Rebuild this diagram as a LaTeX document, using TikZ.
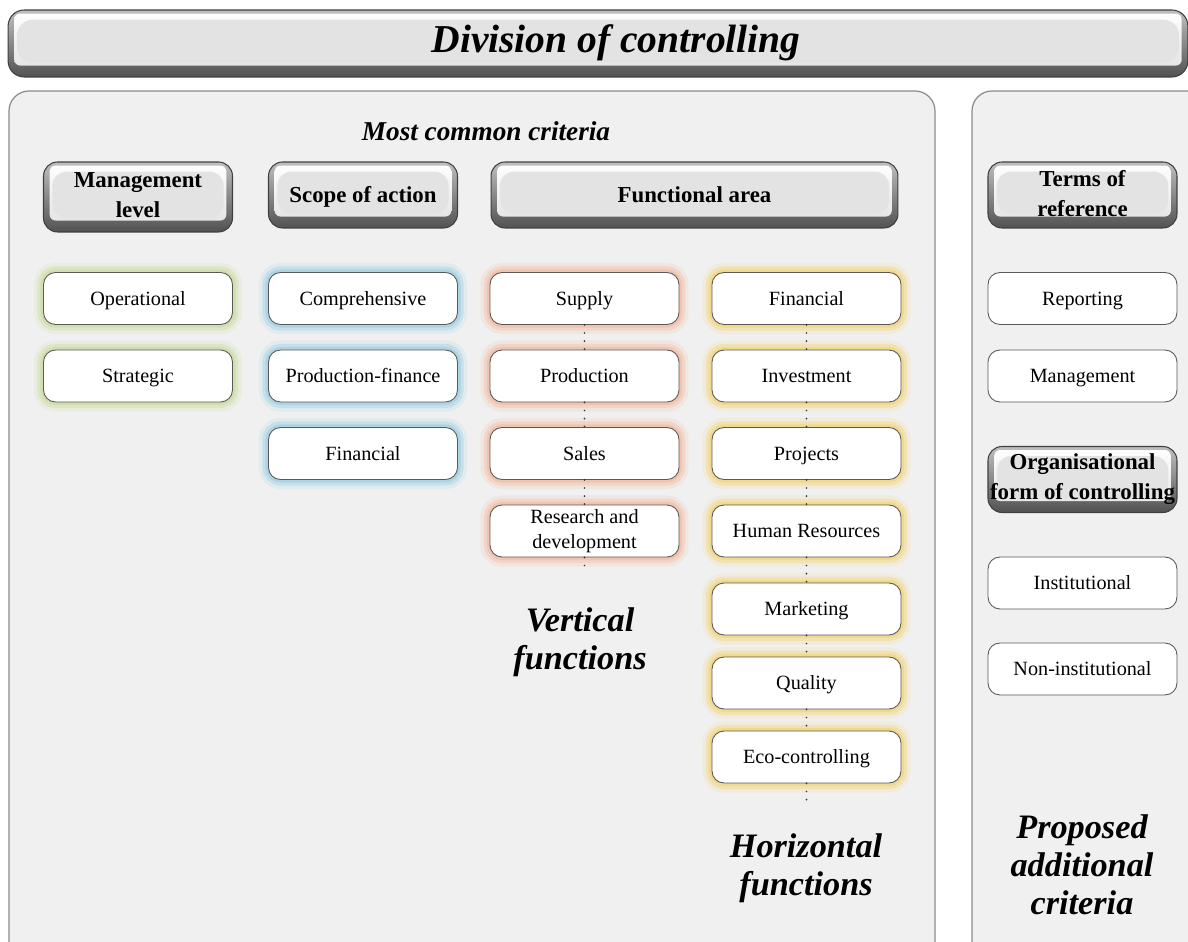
\documentclass[tikz,border=0pt]{standalone}
\usepackage{fontspec}
\setmainfont{Liberation Serif}
\usetikzlibrary{calc}
\definecolor{panelfill}{HTML}{F0F0F0}
\definecolor{panelline}{HTML}{8C8C8C}
\definecolor{glowgreen}{HTML}{C4D690}
\definecolor{glowblue}{HTML}{8CC8E0}
\definecolor{gloworange}{HTML}{F0B090}
\definecolor{glowyellow}{HTML}{F5D060}
\newcommand{\boxstrut}{\vrule height 10pt depth 2.4pt width 0pt}
\newcommand{\headstrut}{\vrule height 11pt depth 2pt width 0pt}
\tikzset{
  panel/.style={draw=panelline, fill=panelfill, line width=0.7pt, rounded corners=0.4cm},
  wbox/.style={draw=black!65, fill=white, rounded corners=0.24cm, minimum width=3.78cm,
    minimum height=1.04cm, align=center, inner sep=1pt, line width=0.5pt,
    font=\fontsize{11.5}{14}\selectfont,
    execute at begin node=\boxstrut, execute at end node=\boxstrut},
  glow/.style={preaction={draw=#1, line width=11pt, opacity=0.15},
    preaction={draw=#1, line width=7pt, opacity=0.3},
    preaction={draw=#1, line width=3.5pt, opacity=0.45}},
  bevel/.style={draw=black!75, line width=0.6pt, top color=black!25, bottom color=black!68,
    path picture={
      \shade[top color=white, bottom color=black!12, rounded corners=0.12cm]
        ($(path picture bounding box.north west)+(3.5pt,-2pt)$) rectangle
        ($(path picture bounding box.south east)+(-3.5pt,6.5pt)$);
      \fill[black!11]
        ($(path picture bounding box.north west)+(5pt,-5.5pt)$) rectangle
        ($(path picture bounding box.south east)+(-5pt,8pt)$);
    }},
  hbox/.style={bevel, rounded corners=0.28cm, minimum width=3.78cm, minimum height=1.32cm,
    align=center, inner sep=1pt, font=\fontsize{13}{17}\selectfont\bfseries,
    execute at begin node=\headstrut, execute at end node=\headstrut},
  bigital/.style={align=center, font=\fontsize{19.5}{21.5}\selectfont\bfseries\itshape},
  dotline/.style={line width=1.1pt, dash pattern=on 0pt off 4.6pt, line cap=round, black!80}
}
\begin{document}
\begin{tikzpicture}[x=0.02cm, y=-0.02cm]
\useasboundingbox (0,0) rectangle (1188,942);
\fill[white] (0,0) rectangle (1188,942);

% panels
\draw[panel] (9,91) rectangle (935,975);
\draw[panel] (972,91) rectangle (1230,975);

% title bar
\node[bevel, rounded corners=0.32cm, minimum width=23.6cm, minimum height=1.34cm] (bar) at (598,43.5) {};
\node[font=\fontsize{22.5}{26}\selectfont\bfseries\itshape] (title) at (616,43) {Division of controlling};

\node[font=\fontsize{15.5}{18}\selectfont\bfseries\itshape] (mcc) at (486,131) {Most common criteria};

% headers
\node[hbox, minimum height=1.4cm] (ml) at (138,197) {Management\\level};
\node[hbox] (sa) at (363,195) {Scope of action};
\node[hbox, minimum width=8.14cm] (fa) at (694.5,195) {Functional area};
\node[hbox] (tr) at (1082.5,195) {Terms of\\reference};

% management level
\node[wbox, glow=glowgreen] (op) at (138,298.5) {Operational};
\node[wbox, glow=glowgreen] (st) at (138,376) {Strategic};

% scope of action
\node[wbox, glow=glowblue] (co) at (363,298.5) {Comprehensive};
\node[wbox, glow=glowblue] (pf) at (363,376) {Production-finance};
\node[wbox, glow=glowblue] (fi) at (363,453.5) {Financial};

% vertical functions
\node[wbox, glow=gloworange] (su) at (584.5,298.5) {Supply};
\node[wbox, glow=gloworange] (pr) at (584.5,376) {Production};
\node[wbox, glow=gloworange] (sl) at (584.5,453.5) {Sales};
\node[wbox, glow=gloworange] (rd) at (584.5,531) {Research and\\development};
\coordinate (rdend) at (584.5,567);
\draw[dotline] (su.south) -- (pr.north);
\draw[dotline] (pr.south) -- (sl.north);
\draw[dotline] (sl.south) -- (rd.north);
\draw[dotline] (rd.south) -- (rdend);

% horizontal functions
\node[wbox, glow=glowyellow] (hf) at (806.5,298.5) {Financial};
\node[wbox, glow=glowyellow] (in) at (806.5,376) {Investment};
\node[wbox, glow=glowyellow] (pj) at (806.5,453.5) {Projects};
\node[wbox, glow=glowyellow] (hr) at (806.5,531) {Human Resources};
\node[wbox, glow=glowyellow] (mk) at (806.5,609) {Marketing};
\node[wbox, glow=glowyellow] (qu) at (806.5,683) {Quality};
\node[wbox, glow=glowyellow] (ec) at (806.5,757) {Eco-controlling};
\coordinate (ecend) at (806.5,802);
\draw[dotline] (hf.south) -- (in.north);
\draw[dotline] (in.south) -- (pj.north);
\draw[dotline] (pj.south) -- (hr.north);
\draw[dotline] (hr.south) -- (mk.north);
\draw[dotline] (mk.south) -- (qu.north);
\draw[dotline] (qu.south) -- (ec.north);
\draw[dotline] (ec.south) -- (ecend);

\node[bigital] (vf) at (580,642) {Vertical\\functions};
\node[bigital] (hfn) at (806,868) {Horizontal\\functions};

% right panel
\node[wbox] (rp) at (1082.5,298.5) {Reporting};
\node[wbox] (mg) at (1082.5,376) {Management};
\node[hbox] (of) at (1082.5,479.5) {Organisational\\form of controlling};
\node[wbox] (is) at (1082.5,583) {Institutional};
\node[wbox] (ni) at (1082.5,669) {Non-institutional};
\node[bigital] (pac) at (1082,865) {Proposed\\additional\\criteria};
\end{tikzpicture}
\end{document}
